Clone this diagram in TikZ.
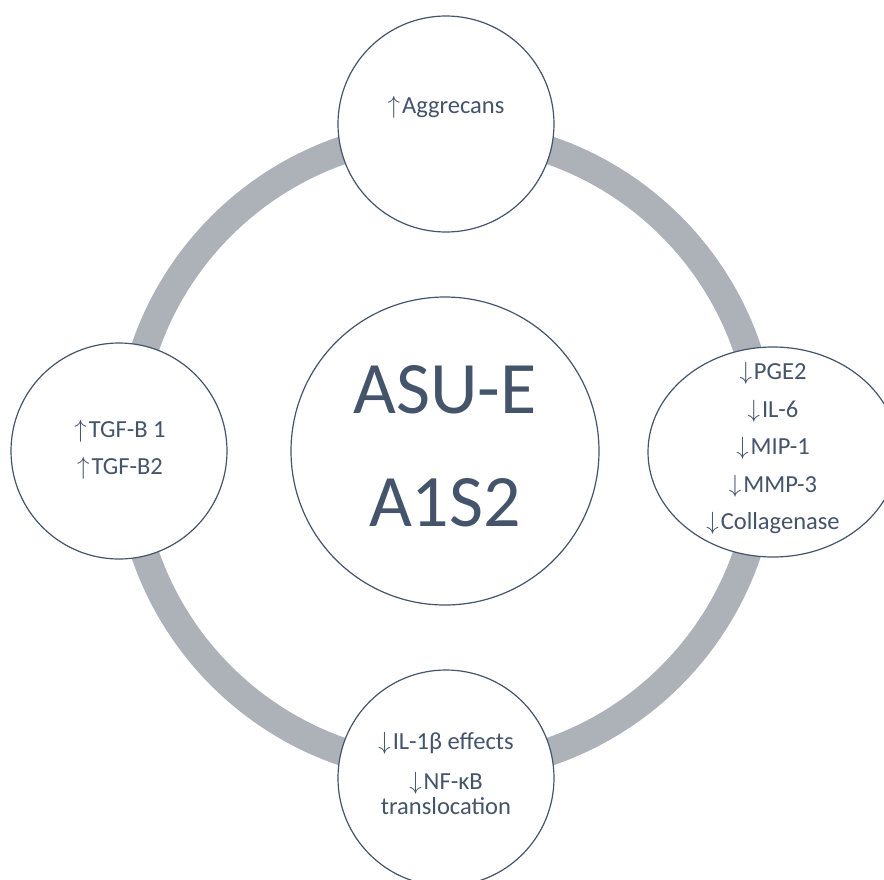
\documentclass[tikz,border=0pt]{standalone}
\usepackage{fontspec}
\setmainfont{Carlito}
\usepackage{tikz}
\usetikzlibrary{shapes.geometric}
\definecolor{slateblue}{RGB}{68, 84, 106}
\definecolor{ringgray}{RGB}{173, 177, 184}

\newcommand{\up}{$\uparrow$\kern2pt}
\newcommand{\down}{$\downarrow$\kern2pt}

\tikzset{
  bubble/.style={circle, draw=slateblue, line width=1.2pt, fill=white, minimum size=216pt, inner sep=0pt},
  oval/.style={ellipse, draw=slateblue, line width=1.2pt, fill=white, minimum width=250pt, minimum height=210pt, inner sep=0pt},
  effect/.style={text=slateblue, align=center, inner sep=0pt, font=\fontsize{24.5}{37.5}\selectfont},
}

\begin{document}
\begin{tikzpicture}[x=1pt, y=-1pt]
        \useasboundingbox (0,0) rectangle (884,879);

        % 灰色圆环
        \coordinate (hub) at (446,451);
        \draw[ringgray, line width=28pt] (hub) circle[radius=318pt];

        % 四周的圆
        \node[bubble] (top) at (446,124) {};
        \node[bubble] (left) at (119,451) {};
        \node[oval] (right) at (773,452) {};
        \node[bubble] (bottom) at (446,778) {};

        % 中心
        \node[bubble, minimum size=308pt] (core) at (445,451) {};
        \node[effect, font=\fontsize{74}{113}\selectfont] (coretxt) at (445,446.5) {ASU-E\\A1S2};

        % 作用
        \node[effect] (aggr) at (446,107) {\up Aggrecans};
        \node[effect, font=\fontsize{24.5}{37}\selectfont] (tgf) at (120,449.5) {\up TGF-B 1\\\up TGF-B2};
        \node[effect] (cyto) at (773,448.5) {\down PGE2\\\down IL-6\\\down MIP-1\\\down MMP-3\\\down Collagenase};
        \node[effect, font=\fontsize{24.5}{25}\selectfont] (nfkb) at (446,773) {\down IL-1β effects\\[15pt]\down NF-κB\\translocation};
    \end{tikzpicture}
\end{document}
